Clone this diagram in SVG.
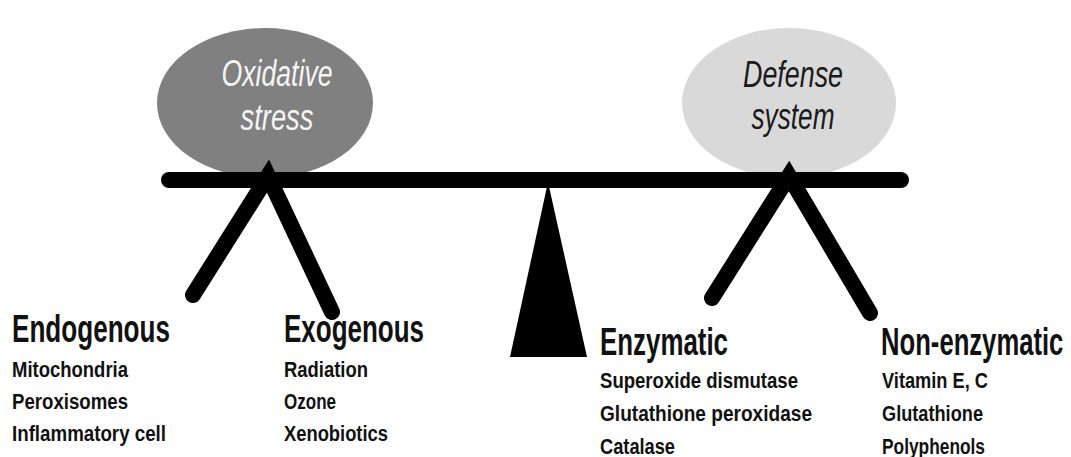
<svg xmlns="http://www.w3.org/2000/svg" width="1071" height="457" viewBox="0 0 1071 457">
<style>
.bar{fill:none;stroke:#000;stroke-width:16;stroke-linecap:round;stroke-linejoin:miter;stroke-miterlimit:10}
.etxt{font-family:"Liberation Sans",Arial,sans-serif;font-style:italic;font-size:37px;text-anchor:middle}
.hd{font-family:"Liberation Sans",Arial,sans-serif;font-weight:bold;font-size:38px;fill:#111}
.it{font-family:"Liberation Sans",Arial,sans-serif;font-weight:bold;font-size:22.5px;fill:#111}
</style>
<rect width="1071" height="457" fill="#fff"/>
<g id="oxidative-stress">
<ellipse cx="265" cy="103" rx="108" ry="75" fill="#808080"/>
<text class="etxt" x="277" y="86" fill="#f5f5f5" textLength="111" lengthAdjust="spacingAndGlyphs">Oxidative</text>
<text class="etxt" x="277" y="130" fill="#f5f5f5" textLength="73" lengthAdjust="spacingAndGlyphs">stress</text>
</g>
<g id="defense-system">
<ellipse cx="789" cy="103" rx="107" ry="75" fill="#d9d9d9"/>
<text class="etxt" x="793" y="87" fill="#1a1a1a" textLength="100" lengthAdjust="spacingAndGlyphs">Defense</text>
<text class="etxt" x="793" y="129" fill="#1a1a1a" textLength="83" lengthAdjust="spacingAndGlyphs">system</text>
</g>
<g id="connectors">
<line class="bar" x1="169" y1="180" x2="901" y2="180"/>
<path class="bar" d="M193,295 L268,176 L332,312"/>
<path class="bar" d="M712,298 L789,176 L870,313"/>
<polygon points="548,182 510,357 587,357" fill="#000"/>
</g>
<g id="endogenous">
<text class="hd" x="12" y="342" textLength="158" lengthAdjust="spacingAndGlyphs">Endogenous</text>
<text class="it" x="12" y="377" textLength="116" lengthAdjust="spacingAndGlyphs">Mitochondria</text>
<text class="it" x="12" y="409" textLength="116" lengthAdjust="spacingAndGlyphs">Peroxisomes</text>
<text class="it" x="12" y="441" textLength="154" lengthAdjust="spacingAndGlyphs">Inflammatory cell</text>
</g>
<g id="exogenous">
<text class="hd" x="284" y="342" textLength="140" lengthAdjust="spacingAndGlyphs">Exogenous</text>
<text class="it" x="284" y="377" textLength="84" lengthAdjust="spacingAndGlyphs">Radiation</text>
<text class="it" x="284" y="409" textLength="52" lengthAdjust="spacingAndGlyphs">Ozone</text>
<text class="it" x="284" y="441" textLength="104" lengthAdjust="spacingAndGlyphs">Xenobiotics</text>
</g>
<g id="enzymatic">
<text class="hd" x="600" y="355" textLength="128" lengthAdjust="spacingAndGlyphs">Enzymatic</text>
<text class="it" x="600" y="388" textLength="198" lengthAdjust="spacingAndGlyphs">Superoxide dismutase</text>
<text class="it" x="600" y="421" textLength="212" lengthAdjust="spacingAndGlyphs">Glutathione peroxidase</text>
<text class="it" x="600" y="454" textLength="75" lengthAdjust="spacingAndGlyphs">Catalase</text>
</g>
<g id="non-enzymatic">
<text class="hd" x="0" y="0" transform="translate(881,355) scale(0.675,1)">Non-enzymatic</text>
<text class="it" x="882" y="388" textLength="106" lengthAdjust="spacingAndGlyphs">Vitamin E, C</text>
<text class="it" x="882" y="421" textLength="101" lengthAdjust="spacingAndGlyphs">Glutathione</text>
<text class="it" x="882" y="454" textLength="103" lengthAdjust="spacingAndGlyphs">Polyphenols</text>
</g>
</svg>
